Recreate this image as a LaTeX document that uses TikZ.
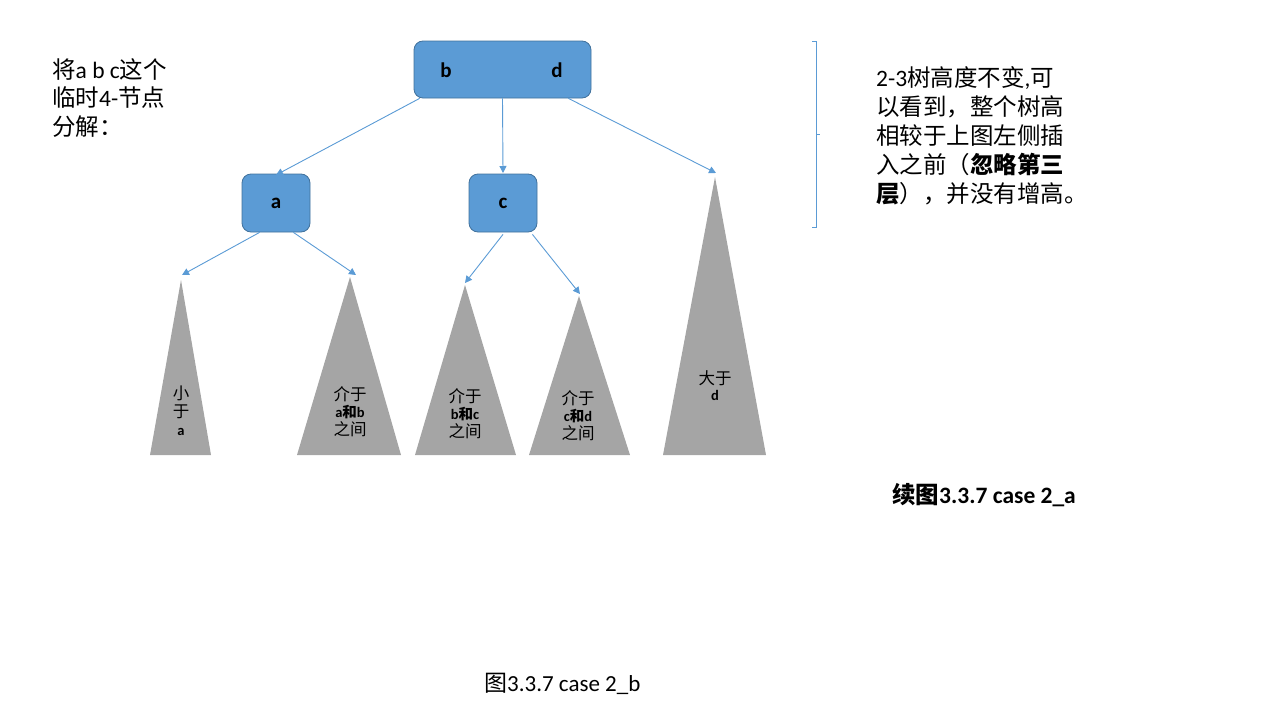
\documentclass[tikz,border=0pt]{standalone}
\usepackage{fontspec}
\setmainfont{Carlito}
\newfontfamily\zhfont{Noto Sans CJK SC}
\newcommand\zh[1]{{\zhfont #1}}
\usetikzlibrary{arrows.meta,calc}
\definecolor{bluefill}{HTML}{5B9BD5}
\definecolor{blueedge}{HTML}{41719C}
\definecolor{trigray}{HTML}{A5A5A5}
\tikzset{
  treenode/.style={draw=blueedge, line width=0.8pt, fill=bluefill, rounded corners=9pt, inner sep=0pt},
  keytext/.style={font=\fontsize{21}{24}\selectfont\bfseries, inner sep=0pt},
  link/.style={draw=bluefill, line width=0.9pt, -{Triangle[width=7pt,length=7pt]}},
  subtree/.style={fill=trigray},
  tritext/.style={font=\fontsize{16.5}{19}\selectfont, align=center, inner sep=0pt},
  note/.style={font=\fontsize{23.5}{28.5}\selectfont, align=left, anchor=north west, inner sep=0pt},
  brace/.style={draw=bluefill, line width=0.9pt}
}
\newcommand\sm[1]{{\fontsize{14.5}{15}\selectfont\bfseries #1}}
\begin{document}
\begin{tikzpicture}[x=1pt,y=-1pt]
\useasboundingbox (0,0) rectangle (1280,720);
% nodes
\node[treenode, minimum width=177pt, minimum height=57pt] (root) at (502.5,69.5) {};
\node[keytext] (kb) at (446,70) {b};
\node[keytext] (kd) at (557,70) {d};
\node[treenode, minimum width=68pt, minimum height=58pt] (na) at (276,203) {};
\node[keytext] at (na.center) {a};
\node[treenode, minimum width=68pt, minimum height=58pt] (nc) at (503,203) {};
\node[keytext] at (nc.center) {c};
% subtrees
\fill[subtree] (181,280) -- (211,455) -- (150,455) -- cycle;
\fill[subtree] (350,277) -- (401,455) -- (297,455) -- cycle;
\fill[subtree] (465,285) -- (516,455) -- (415,455) -- cycle;
\fill[subtree] (579,296) -- (630,455) -- (529,455) -- cycle;
\fill[subtree] (715,177) -- (766,455) -- (663,455) -- cycle;
\coordinate (t1) at (182,275);
\coordinate (t2) at (356,275);
\coordinate (t3) at (465,283);
\coordinate (t4) at (580,294);
\coordinate (t5) at (716,173);
\coordinate (ta) at (276,175);
\coordinate (tc) at (503,173);
% texts in subtrees
\node[tritext] (s1) at (181,411) {\zh{小}\\[-1pt]\zh{于}\\[-1pt]\sm{a}};
\node[tritext] (s2) at (350,412) {\zh{介于}\\[-2pt]\sm{a{\zhfont 和}b}\\[-1pt]\zh{之间}};
\node[tritext] (s3) at (465,414) {\zh{介于}\\[-2pt]\sm{b{\zhfont 和}c}\\[-1pt]\zh{之间}};
\node[tritext] (s4) at (578,416) {\zh{介于}\\[-2pt]\sm{c{\zhfont 和}d}\\[-1pt]\zh{之间}};
\node[tritext] (s5) at (715,386) {\zh{大于}\\[-3pt]\sm{d}};
% links
\draw[link] ($(root.south west)+(6,0)$) -- (ta);
\draw[link] (root.south) -- (tc);
\draw[link] ($(root.south east)+(-23,0)$) -- (t5);
\draw[link] ($(na.south west)+(18,0)$) -- (t1);
\draw[link] ($(na.south east)+(-17,0)$) -- (t2);
\draw[link] ($(nc.south)+(0,2)$) -- (t3);
\draw[link] ($(nc.south east)+(-5,2)$) -- (t4);
% bracket
\coordinate (bt) at (816,41);
\coordinate (bb) at (816,227);
\coordinate (bm) at (816,134);
\draw[brace] ($(bt)+(-4,0)$) -- (bt) -- (bb) -- ($(bb)+(-4,0)$);
\draw[brace] (bm) -- ($(bm)+(4,0)$);
% notes
\node[note] (left) at (52,58) {\zh{将}a b c\zh{这个}\\\zh{临时}4-\zh{节点}\\\zh{分解：}};
\node[note, font=\fontsize{23.5}{29}\selectfont] (right) at (876,66) {2-3\zh{树高度不变},\zh{可}\\\zh{以看到，整个树高}\\\zh{相较于上图左侧插}\\\zh{入之前（{\bfseries 忽略第三}}\\\zh{{\bfseries 层}），并没有增高。}};
\node[font=\fontsize{23.5}{26}\selectfont\bfseries, anchor=west, inner sep=0pt] (cap1) at (892,495) {\zh{续图}3.3.7 case 2\_a};
\node[font=\fontsize{23}{26}\selectfont, anchor=west, inner sep=0pt] (cap2) at (484,684) {\zh{图}3.3.7 case 2\_b};
\end{tikzpicture}
\end{document}
